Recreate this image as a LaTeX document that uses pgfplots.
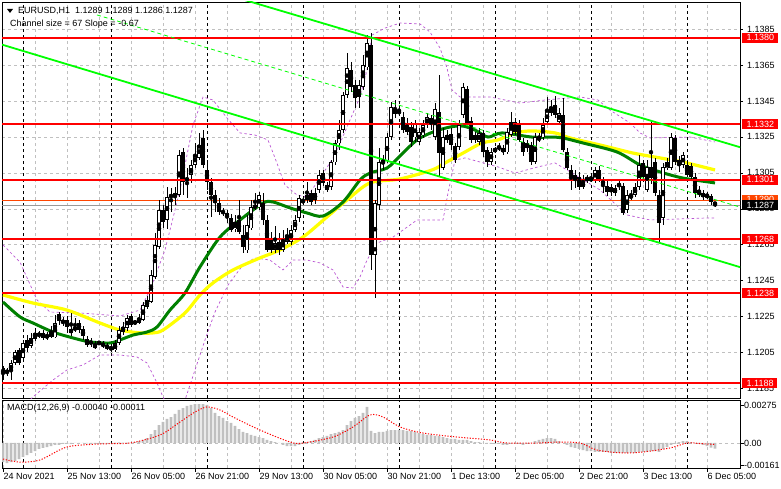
\documentclass[border=0pt]{standalone}
\usepackage{pgfplots}
\pgfplotsset{compat=1.18}
\usepackage{pgfplotstable}
\usepackage{fontspec}
\setmainfont{Liberation Sans}
\definecolor{gridgray}{RGB}{192,192,192}
\definecolor{lvlred}{RGB}{255,0,0}
\definecolor{limeg}{RGB}{0,255,0}
\definecolor{magreen}{RGB}{0,128,0}
\definecolor{mayellow}{RGB}{255,255,0}
\definecolor{bandviolet}{RGB}{186,85,211}
\definecolor{orangered}{RGB}{255,69,0}
\definecolor{histgray}{RGB}{192,192,192}
\newcommand\lbfont{\fontsize{9bp}{10bp}\selectfont}
\newcommand\lbl[2]{{\setlength\fboxsep{0pt}\colorbox{#1}{\rule[-2.2bp]{0pt}{10bp}\hspace{4.5bp}\textcolor{white}{#2}\hspace{3.5bp}}}}
\pgfplotsset{/pgf/number format/assume math mode=true}

\pgfplotstableread{
i o h l c
2 1.11948 1.12009 1.11898 1.11993
3 1.11993 1.12065 1.11982 1.12054
5 1.12021 1.12121 1.11998 1.12104
7 1.12087 1.12160 1.12076 1.12132
8 1.12126 1.12187 1.12115 1.12160
9 1.12148 1.12171 1.12132 1.12154
11 1.12132 1.12165 1.12121 1.12148
12 1.12137 1.12198 1.12132 1.12165
13 1.12137 1.12260 1.12132 1.12215
15 1.12221 1.12249 1.12198 1.12226
18 1.12176 1.12243 1.12165 1.12193
21 1.12093 1.12143 1.12082 1.12126
24 1.12104 1.12115 1.12093 1.12106
26 1.12082 1.12104 1.12065 1.12084
28 1.12065 1.12121 1.12054 1.12104
29 1.12104 1.12198 1.12093 1.12176
30 1.12165 1.12221 1.12148 1.12193
31 1.12187 1.12260 1.12171 1.12243
33 1.12215 1.12232 1.12204 1.12221
34 1.12215 1.12265 1.12210 1.12243
35 1.12232 1.12332 1.12226 1.12315
36 1.12304 1.12365 1.12293 1.12343
37 1.12332 1.12510 1.12326 1.12482
38 1.12471 1.12716 1.12460 1.12649
39 1.12638 1.12899 1.12627 1.12843
41 1.12788 1.12971 1.12738 1.12916
42 1.12916 1.12966 1.12832 1.12927
43 1.12916 1.12971 1.12871 1.12938
44 1.12927 1.13177 1.12916 1.13149
46 1.13010 1.13077 1.12910 1.13021
47 1.13038 1.13121 1.12994 1.13094
48 1.13094 1.13215 1.13077 1.13149
49 1.13133 1.13272 1.13121 1.13205
58 1.12738 1.12816 1.12721 1.12777
61 1.12621 1.12816 1.12604 1.12760
62 1.12743 1.12899 1.12732 1.12860
63 1.12855 1.12938 1.12843 1.12871
64 1.12860 1.12944 1.12843 1.12927
68 1.12621 1.12754 1.12604 1.12660
70 1.12621 1.12732 1.12610 1.12677
71 1.12666 1.12743 1.12654 1.12704
72 1.12666 1.12760 1.12649 1.12732
73 1.12732 1.12816 1.12721 1.12788
74 1.12799 1.12927 1.12777 1.12910
75 1.12888 1.12921 1.12871 1.12899
76 1.12899 1.12999 1.12882 1.12927
78 1.12899 1.12966 1.12877 1.12938
79 1.12955 1.13066 1.12938 1.13038
82 1.12971 1.13121 1.12955 1.13110
83 1.13110 1.13233 1.13094 1.13216
84 1.13216 1.13344 1.13177 1.13288
85 1.13288 1.13500 1.13272 1.13483
86 1.13483 1.13716 1.13466 1.13633
89 1.13472 1.13566 1.13410 1.13538
90 1.13527 1.13705 1.13511 1.13650
91 1.13638 1.13816 1.13622 1.13772
93 1.12593 1.12899 1.12354 1.12882
94 1.12871 1.13188 1.12843 1.13110
95 1.13105 1.13149 1.13066 1.13121
96 1.13121 1.13272 1.13105 1.13249
97 1.13249 1.13444 1.13233 1.13416
99 1.13388 1.13427 1.13366 1.13390
103 1.13249 1.13344 1.13222 1.13322
104 1.13222 1.13299 1.13205 1.13277
105 1.13260 1.13344 1.13244 1.13316
106 1.13316 1.13383 1.13299 1.13360
108 1.13249 1.13438 1.13233 1.13405
110 1.13077 1.13299 1.13066 1.13249
114 1.13194 1.13344 1.13177 1.13316
115 1.13372 1.13550 1.13355 1.13527
119 1.13222 1.13299 1.13205 1.13272
122 1.13110 1.13188 1.13094 1.13166
123 1.13177 1.13194 1.13160 1.13179
124 1.13183 1.13216 1.13171 1.13199
125 1.13166 1.13205 1.13149 1.13188
126 1.13166 1.13299 1.13155 1.13277
127 1.13260 1.13388 1.13249 1.13333
131 1.13188 1.13233 1.13166 1.13216
133 1.13110 1.13272 1.13099 1.13249
134 1.13233 1.13272 1.13222 1.13249
135 1.13249 1.13355 1.13233 1.13316
136 1.13333 1.13472 1.13322 1.13394
137 1.13383 1.13455 1.13366 1.13416
139 1.13333 1.13410 1.13316 1.13383
143 1.13010 1.13066 1.12966 1.13038
145 1.12971 1.13038 1.12960 1.12999
146 1.13016 1.13038 1.12994 1.13018
147 1.13010 1.13044 1.12999 1.13021
148 1.13010 1.13083 1.12994 1.13066
152 1.12944 1.12988 1.12921 1.12971
154 1.12982 1.13010 1.12955 1.12984
156 1.12843 1.12955 1.12827 1.12927
157 1.12910 1.12955 1.12899 1.12927
158 1.12927 1.12994 1.12916 1.12971
159 1.12971 1.13149 1.12955 1.13094
161 1.12955 1.13121 1.12944 1.13083
165 1.12799 1.13105 1.12760 1.13083
166 1.13077 1.13133 1.13066 1.13110
167 1.13077 1.13272 1.13066 1.13249
170 1.13094 1.13166 1.13077 1.13149
174 1.12927 1.12977 1.12916 1.12955
176 1.12921 1.12944 1.12905 1.12923
}\up

\pgfplotstableread{
i o h l c
0 1.11965 1.11976 1.11898 1.11932
1 1.11954 1.11965 1.11920 1.11937
4 1.12065 1.12076 1.11982 1.11993
6 1.12121 1.12148 1.12054 1.12076
10 1.12160 1.12176 1.12121 1.12132
14 1.12265 1.12276 1.12204 1.12226
16 1.12232 1.12254 1.12160 1.12193
17 1.12182 1.12271 1.12143 1.12160
19 1.12215 1.12232 1.12160 1.12176
20 1.12182 1.12198 1.12121 1.12143
22 1.12115 1.12132 1.12082 1.12098
23 1.12098 1.12115 1.12071 1.12076
25 1.12104 1.12115 1.12076 1.12087
27 1.12082 1.12098 1.12054 1.12065
32 1.12254 1.12265 1.12193 1.12204
40 1.12843 1.12871 1.12743 1.12777
45 1.13166 1.13188 1.12927 1.12999
50 1.13244 1.13288 1.13077 1.13094
51 1.13066 1.13121 1.12955 1.12999
52 1.12999 1.13021 1.12805 1.12927
53 1.12927 1.12955 1.12832 1.12882
54 1.12882 1.12910 1.12816 1.12832
55 1.12838 1.12855 1.12810 1.12830
56 1.12827 1.12843 1.12771 1.12805
57 1.12799 1.12821 1.12721 1.12732
59 1.12788 1.12899 1.12710 1.12721
60 1.12704 1.12760 1.12604 1.12638
65 1.12882 1.12938 1.12760 1.12788
66 1.12788 1.12816 1.12610 1.12621
67 1.12677 1.12721 1.12604 1.12621
69 1.12666 1.12716 1.12593 1.12621
77 1.12938 1.12955 1.12871 1.12888
80 1.13049 1.13066 1.12977 1.12994
81 1.12982 1.12999 1.12944 1.12955
87 1.13622 1.13666 1.13500 1.13527
88 1.13538 1.13566 1.13410 1.13466
92 1.13761 1.13828 1.12510 1.12593
98 1.13405 1.13455 1.13355 1.13377
100 1.13360 1.13388 1.13272 1.13288
101 1.13327 1.13355 1.13260 1.13277
102 1.13305 1.13333 1.13194 1.13222
107 1.13355 1.13372 1.13288 1.13316
109 1.13388 1.13594 1.13027 1.13160
111 1.13260 1.13288 1.13216 1.13233
112 1.13266 1.13299 1.13177 1.13205
113 1.13199 1.13216 1.13105 1.13121
116 1.13516 1.13533 1.13316 1.13327
117 1.13338 1.13360 1.13216 1.13233
118 1.13260 1.13277 1.13216 1.13230
120 1.13272 1.13288 1.13138 1.13166
121 1.13177 1.13194 1.13083 1.13110
128 1.13333 1.13355 1.13260 1.13277
129 1.13327 1.13344 1.13222 1.13233
130 1.13222 1.13244 1.13144 1.13166
132 1.13205 1.13222 1.13094 1.13110
138 1.13427 1.13477 1.13355 1.13372
140 1.13372 1.13466 1.13166 1.13177
141 1.13166 1.13188 1.13066 1.13077
142 1.13066 1.13094 1.12955 1.13021
144 1.13027 1.13055 1.12955 1.12971
149 1.13066 1.13088 1.12999 1.13010
150 1.13010 1.13027 1.12938 1.12982
151 1.12977 1.13010 1.12921 1.12944
153 1.12966 1.12982 1.12921 1.12938
155 1.12977 1.12994 1.12816 1.12827
160 1.13105 1.13121 1.12999 1.13027
162 1.13083 1.13344 1.12988 1.13021
163 1.13110 1.13133 1.12921 1.12938
164 1.12927 1.12955 1.12660 1.12771
168 1.13244 1.13260 1.13094 1.13110
169 1.13121 1.13144 1.13055 1.13094
171 1.13094 1.13121 1.13027 1.13038
172 1.13088 1.13105 1.13010 1.13027
173 1.13027 1.13049 1.12912 1.12938
175 1.12938 1.12955 1.12899 1.12916
177 1.12921 1.12932 1.12871 1.12888
178 1.12890 1.12890 1.12860 1.12870
}\down

\pgfplotstableread{
i h
0 -0.00138
1 -0.00145
2 -0.00138
3 -0.00130
4 -0.00116
5 -0.00101
6 -0.00087
7 -0.00072
8 -0.00058
9 -0.00043
10 -0.00036
11 -0.00029
12 -0.00022
13 -0.00014
14 -0.00014
15 -0.00007
16 -0.00007
17 -0.00007
18 0
19 0
20 0
21 -0.00003
22 -0.00005
23 -0.00007
24 -0.00007
25 -0.00007
26 -0.00005
27 -0.00003
28 0.00002
29 0.00005
30 0.00003
31 0.00002
32 0
33 0.00007
34 0.00014
35 0.00022
36 0.00036
37 0.00065
38 0.00094
39 0.00130
40 0.00152
41 0.00174
42 0.00188
43 0.00210
44 0.00239
45 0.00253
46 0.00268
47 0.00275
48 0.00282
49 0.00282
50 0.00282
51 0.00275
52 0.00253
53 0.00217
54 0.00195
55 0.00181
56 0.00159
57 0.00145
58 0.00123
59 0.00101
60 0.00080
61 0.00072
62 0.00058
63 0.00051
64 0.00043
65 0.00036
66 0.00022
67 0.00014
68 0.00007
69 0
70 -0.00014
71 -0.00022
72 -0.00022
73 -0.00022
74 -0.00014
75 -0.00007
76 0.00007
77 0.00014
78 0.00022
79 0.00036
80 0.00043
81 0.00051
82 0.00065
83 0.00072
84 0.00080
85 0.00094
86 0.00130
87 0.00159
88 0.00181
89 0.00195
90 0.00217
91 0.00261
92 0.00087
93 0.00072
94 0.00080
95 0.00080
96 0.00087
97 0.00094
98 0.00094
99 0.00094
100 0.00094
101 0.00087
102 0.00087
103 0.00080
104 0.00072
105 0.00065
106 0.00058
107 0.00058
108 0.00051
109 0.00051
110 0.00043
111 0.00036
112 0.00029
113 0.00029
114 0.00022
115 0.00022
116 0.00022
117 0.00014
118 0.00007
119 0.00007
120 0
121 0
122 -0.00007
123 -0.00007
124 -0.00007
125 -0.00014
126 -0.00014
127 -0.00007
128 -0.00007
129 -0.00007
130 -0.00014
131 -0.00007
132 0
133 0.00014
134 0.00022
135 0.00029
136 0.00036
137 0.00036
138 0.00029
139 0.00014
140 0
141 -0.00014
142 -0.00029
143 -0.00036
144 -0.00043
145 -0.00051
146 -0.00058
147 -0.00058
148 -0.00065
149 -0.00065
150 -0.00065
151 -0.00065
152 -0.00072
153 -0.00072
154 -0.00072
155 -0.00072
156 -0.00072
157 -0.00072
158 -0.00072
159 -0.00065
160 -0.00065
161 -0.00065
162 -0.00058
163 -0.00058
164 -0.00065
165 -0.00043
166 -0.00029
167 -0.00014
168 -0.00007
169 0.00007
170 0.00014
171 0.00014
172 0.00007
173 0
174 -0.00007
175 -0.00014
176 -0.00022
177 -0.00033
178 -0.00040
}\macd

\begin{document}
\begin{tikzpicture}[x=1bp,y=1bp]
\useasboundingbox (0,0) rectangle (781,-489);

% ---------------- price panel ----------------
\begin{axis}[
  at={(2bp,-2bp)}, anchor=north west, scale only axis,
  width=738bp, height=396bp,
  xmin=-0.25, xmax=184.25, ymin=1.11798, ymax=1.14000,
  axis line style={black, line width=0.8bp},
  xtick={8,16,...,176}, xticklabels={}, x tick style={draw=none},
  ytick={1.1185,1.1205,1.1225,1.1245,1.1265,1.1285,1.1305,1.1325,1.1345,1.1365,1.1385},
  ytick pos=right, yticklabel pos=right,
  tick align=outside, major tick length=3bp,
  y tick style={black, line width=0.6bp},
  xmajorgrids, ymajorgrids,
  major grid style={gridgray, line width=0.6bp, dash pattern=on 3bp off 3bp},
  every tick label/.append style={font=\lbfont, text=black},
  yticklabel style={/pgf/number format/fixed, /pgf/number format/fixed zerofill, /pgf/number format/precision=4, anchor=west, inner sep=0pt, xshift=4bp},
  scaled y ticks=false, scaled x ticks=false,
  extra x ticks={5,27,51,75,99,123,147,171},
  extra x tick labels={},
  extra x tick style={xmajorgrids=true, major tick length=0pt, major grid style={black, line width=0.6bp, dash pattern=on 3bp off 3bp}},
  extra y ticks={1.1380,1.1332,1.1301,1.1290,1.1287,1.1268,1.1238,1.1188},
  extra y tick labels={\lbl{lvlred}{1.1380},\lbl{lvlred}{1.1332},\lbl{lvlred}{1.1301},\lbl{orangered}{1.1290},\lbl{black}{1.1287},\lbl{lvlred}{1.1268},\lbl{lvlred}{1.1238},\lbl{lvlred}{1.1188}},
  extra y tick style={ymajorgrids=false, major tick length=0pt, yticklabel style={xshift=-2bp}},
]
% Bollinger-type bands
\addplot[bandviolet, line width=0.7bp, dash pattern=on 2.5bp off 2.5bp] coordinates {
(0,1.12649) (4.25,1.12554) (8.5,1.12343) (11.75,1.12276) (19.25,1.12271) (29.25,1.12254) (34.25,1.12287) (36.75,1.12399) (40.5,1.12621) (44.25,1.12955) (47.5,1.13316) (50,1.13472) (52.5,1.13455) (56,1.13355) (59.25,1.13272) (63,1.13260) (66.25,1.13233) (68,1.13133) (70.5,1.12982) (73.5,1.12927) (76,1.12916) (79.25,1.13021) (83,1.13149) (86.75,1.13344) (89.25,1.13472) (91,1.13622) (92.25,1.13816) (95.5,1.13855) (99.25,1.13883) (104.25,1.13878) (106.75,1.13833) (109.25,1.13744) (111,1.13633) (112.25,1.13511) (114.25,1.13472) (121.75,1.13472) (129.25,1.13438) (135.5,1.13455) (144.25,1.13472) (148.75,1.13455) (151.75,1.13399) (156.75,1.13327) (159.25,1.13272) (161.75,1.13244) (171.75,1.13249) (178,1.13222)};
\addplot[bandviolet, line width=0.7bp, dash pattern=on 2.5bp off 2.5bp] coordinates {
(4.25,1.11731) (7.5,1.11804) (12.5,1.11898) (16,1.11954) (20,1.11982) (24.25,1.12037) (29.25,1.12037) (33.5,1.12026) (36,1.11993) (38.5,1.11882) (40,1.11804) (41.75,1.11731) (45.5,1.11787) (48,1.11954) (50.5,1.12121) (53,1.12276) (56.25,1.12426) (60,1.12538) (63,1.12577) (66.75,1.12565) (70,1.12510) (72.5,1.12565) (76,1.12565) (79.25,1.12549) (82.5,1.12510) (85,1.12415) (87.5,1.12410) (89.25,1.12471) (91,1.12565) (93.5,1.12660) (97.5,1.12693) (100,1.12732) (103.5,1.12788) (110,1.12788) (111.25,1.12938) (113,1.13121) (115.5,1.13133) (123.75,1.13083) (128,1.13049) (133.75,1.13083) (138,1.13105) (141,1.13066) (149.25,1.12955) (156,1.12816) (161.75,1.12788) (176,1.12799) (178,1.12799)};
% bid / ask lines
\addplot[black!40, line width=0.6bp] coordinates {(-1,1.1287) (186,1.1287)};
\addplot[orangered, line width=0.6bp] coordinates {(-1,1.1290) (186,1.1290)};
% moving averages
\addplot[mayellow, line width=3.2bp, smooth] coordinates {
(0,1.12371) (7.5,1.12326) (16,1.12287) (24.25,1.12215) (29.25,1.12176) (34.25,1.12160) (37.5,1.12160) (40,1.12176) (45.5,1.12271) (49.25,1.12371) (52.5,1.12438) (57.5,1.12510) (64.25,1.12577) (69.25,1.12621) (75,1.12693) (81,1.12805) (86,1.12899) (91.75,1.12994) (99.25,1.13016) (107.25,1.13066) (110.5,1.13105) (115.5,1.13166) (119.75,1.13216) (123.75,1.13233) (128,1.13272) (132.25,1.13283) (138,1.13272) (141.75,1.13244) (149.25,1.13205) (157.5,1.13160) (164.25,1.13133) (170,1.13110) (178,1.13066)};
\addplot[magreen, line width=3bp, smooth] coordinates {
(0,1.12332) (4.25,1.12249) (7.5,1.12215) (12.5,1.12165) (17.5,1.12132) (21.75,1.12110) (26.75,1.12104) (29.25,1.12121) (32.5,1.12148) (36,1.12165) (38.5,1.12193) (41.75,1.12287) (45.5,1.12382) (49.25,1.12527) (54.25,1.12693) (59.25,1.12788) (65,1.12882) (67.5,1.12888) (71.75,1.12855) (76,1.12827) (80,1.12810) (85,1.12888) (89.25,1.13010) (91.75,1.13049) (96,1.13077) (99.25,1.13144) (103.5,1.13233) (107.5,1.13277) (111.75,1.13305) (115,1.13310) (118,1.13288) (121.25,1.13249) (124.75,1.13272) (132.25,1.13249) (138,1.13249) (140,1.13244) (145,1.13216) (153.5,1.13166) (159.25,1.13094) (164.25,1.13055) (170,1.13021) (178,1.12994)};
% candles: wicks
\addplot[only marks, mark=none, error bars/.cd, y dir=both, y explicit, error mark=none,
  error bar style={draw=black, line width=0.9bp}]
  table[x=i, y expr={(\thisrow{h}+\thisrow{l})/2}, y error expr={(\thisrow{h}-\thisrow{l})/2}] {\up};
\addplot[only marks, mark=none, error bars/.cd, y dir=both, y explicit, error mark=none,
  error bar style={draw=black, line width=0.9bp}]
  table[x=i, y expr={(\thisrow{h}+\thisrow{l})/2}, y error expr={(\thisrow{h}-\thisrow{l})/2}] {\down};
% bodies
\addplot[only marks, mark=none, error bars/.cd, y dir=both, y explicit, error mark=none,
  error bar style={draw=black, line width=3.2bp}]
  table[x=i, y expr={(\thisrow{o}+\thisrow{c})/2}, y error expr={max(abs(\thisrow{c}-\thisrow{o})/2,0.000012)}] {\down};
\addplot[only marks, mark=none, error bars/.cd, y dir=both, y explicit, error mark=none,
  error bar style={draw=black, line width=3.2bp}]
  table[x=i, y expr={(\thisrow{o}+\thisrow{c})/2}, y error expr={max(abs(\thisrow{c}-\thisrow{o})/2,0.000012)}] {\up};
\addplot[only marks, mark=none, error bars/.cd, y dir=both, y explicit, error mark=none,
  error bar style={draw=white, line width=1.4bp}]
  table[x=i, y expr={(\thisrow{o}+\thisrow{c})/2}, y error expr={max(abs(\thisrow{c}-\thisrow{o})/2-0.00004,0)}] {\up};
% horizontal levels
\addplot[lvlred, line width=2bp] coordinates {(-1,1.1380) (186,1.1380)};
\addplot[lvlred, line width=2bp] coordinates {(-1,1.1332) (186,1.1332)};
\addplot[lvlred, line width=2bp] coordinates {(-1,1.1301) (186,1.1301)};
\addplot[lvlred, line width=2bp] coordinates {(-1,1.1268) (186,1.1268)};
\addplot[lvlred, line width=2bp] coordinates {(-1,1.1238) (186,1.1238)};
\addplot[lvlred, line width=2bp] coordinates {(-1,1.1188) (186,1.1188)};
% regression channel
\addplot[limeg, line width=1.8bp] coordinates {(50,1.14080) (186,1.13181)};
\addplot[limeg, line width=1.8bp] coordinates {(-1,1.13768) (186,1.12514)};
\addplot[limeg, line width=0.8bp, dash pattern=on 4bp off 3bp] coordinates {(23.5,1.13928) (186,1.12848)};
\end{axis}

% ---------------- MACD panel ----------------
\begin{axis}[
  at={(2bp,-400bp)}, anchor=north west, scale only axis,
  width=738bp, height=68bp,
  xmin=-0.25, xmax=184.25, ymin=-0.00181, ymax=0.00311,
  axis line style={black, line width=0.8bp},
  xtick={0,16,...,176},
  xticklabels={24 Nov 2021,25 Nov 13:00,26 Nov 05:00,26 Nov 21:00,29 Nov 13:00,30 Nov 05:00,30 Nov 21:00,1 Dec 13:00,2 Dec 05:00,2 Dec 21:00,3 Dec 13:00,6 Dec 05:00},
  minor xtick={8,24,...,168},
  xtick pos=bottom, ytick pos=right, yticklabel pos=right,
  tick align=outside, major tick length=3.5bp, minor tick length=0pt,
  tick style={black, line width=0.6bp},
  xmajorgrids, xminorgrids,
  major grid style={gridgray, line width=0.6bp, dash pattern=on 3bp off 3bp},
  minor grid style={gridgray, line width=0.6bp, dash pattern=on 3bp off 3bp},
  every tick label/.append style={font=\lbfont, text=black},
  x tick label style={anchor=north west, inner sep=0pt, xshift=0.5bp, yshift=-2bp},
  ytick={-0.00161,0,0.00275}, yticklabels={-0.00161,0.00,0.00275},
  yticklabel style={anchor=west, inner sep=0pt, xshift=0.5bp},
  scaled y ticks=false, scaled x ticks=false,
  extra x ticks={5,27,51,75,99,123,147,171},
  extra x tick labels={},
  extra x tick style={xmajorgrids=true, major tick length=0pt, major grid style={black, line width=0.6bp, dash pattern=on 3bp off 3bp}},
]
\addplot[gridgray, line width=0.6bp, dash pattern=on 3bp off 3bp] coordinates {(-1,0) (186,0)};
\addplot[ybar, bar width=2.8bp, fill=histgray, draw=none] table[x=i, y=h] {\macd};
\addplot[red, line width=1bp, dash pattern=on 1.2bp off 1.6bp, smooth] coordinates {
(0,-0.00116) (4.25,-0.00138) (9.25,-0.00123) (16,-0.00029) (24.25,-0.00007) (31.75,0) (39.25,0.00058) (44.25,0.00152) (48,0.00224) (51,0.00261) (54.25,0.00239) (57.5,0.00188) (64.25,0.00094) (71.75,0.00007) (75,0) (82.5,0.00043) (87.5,0.00116) (91.75,0.00203) (95,0.00188) (99.25,0.00116) (105,0.00072) (113.5,0.00043) (121.75,0.00022) (126,0) (134.25,0) (138.5,0.00007) (144.25,0) (148.5,-0.00051) (155,-0.00072) (160,-0.00065) (166.75,-0.00036) (171,0) (174.25,-0.00004) (178,-0.00011)};
\end{axis}

% ---------------- texts ----------------
\fill[black] (7,-9) -- (13,-9) -- (10,-13) -- cycle;
\node[anchor=west, inner sep=0pt, font=\lbfont] at (18,-11) {EURUSD,H1\hspace{5bp}1.1289 1.1289 1.1286 1.1287};
\node[anchor=west, inner sep=0pt, font=\lbfont] at (10,-24) {Channel size = 67 Slope = -0.67};
\node[anchor=west, inner sep=0pt, font=\lbfont] at (7,-408) {MACD(12,26,9) -0.00040 -0.00011};
\end{tikzpicture}
\end{document}
